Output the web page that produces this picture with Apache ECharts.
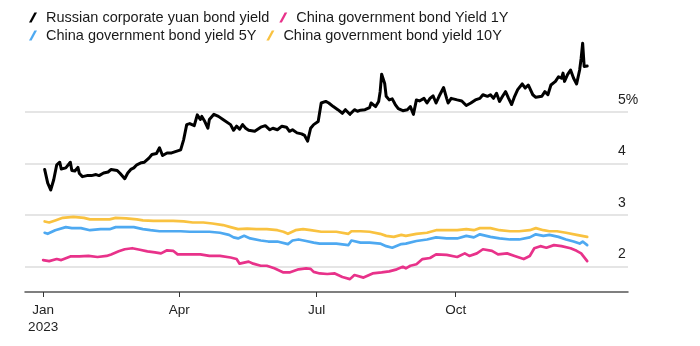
<!DOCTYPE html>
<html>
<head>
<meta charset="utf-8">
<script src="https://cdn.jsdelivr.net/npm/echarts@6/dist/echarts.min.js"></script>
<style>
  html, body { margin: 0; padding: 0; background: #fff; }
  #chart { width: 700px; height: 346px; }
</style>
</head>
<body>
<div id="chart"></div>
<script>
// ---- Data ----
const seriesNames = [
  'Russian corporate yuan bond yield',
  'China government bond Yield 1Y',
  'China government bond yield 5Y',
  'China government bond yield 10Y'
];

const russianYuan = [
  ['2023-01-02',3.88],['2023-01-04',3.62],['2023-01-06',3.48],['2023-01-08',3.68],['2023-01-10',3.97],
  ['2023-01-12',4.02],['2023-01-13',3.89],['2023-01-16',3.91],['2023-01-17',3.88],['2023-01-19',4.02],
  ['2023-01-20',3.86],['2023-01-22',3.85],['2023-01-24',3.92],['2023-01-25',3.80],['2023-01-27',3.74],
  ['2023-01-30',3.76],['2023-02-02',3.76],['2023-02-05',3.78],['2023-02-07',3.76],['2023-02-10',3.81],
  ['2023-02-13',3.83],['2023-02-15',3.88],['2023-02-19',3.86],['2023-02-21',3.80],['2023-02-24',3.70],
  ['2023-02-26',3.81],['2023-02-28',3.88],['2023-03-02',3.91],['2023-03-04',3.97],['2023-03-07',4.01],
  ['2023-03-09',4.02],['2023-03-12',4.10],['2023-03-14',4.17],['2023-03-17',4.19],['2023-03-19',4.30],
  ['2023-03-21',4.15],['2023-03-24',4.20],['2023-03-27',4.20],['2023-03-30',4.23],['2023-04-02',4.26],
  ['2023-04-03',4.23],['2023-04-04',4.46],['2023-04-06',4.75],['2023-04-08',4.77],['2023-04-11',4.73],
  ['2023-04-13',4.94],['2023-04-15',4.85],['2023-04-16',4.91],['2023-04-18',4.81],['2023-04-20',4.68],
  ['2023-04-21',4.85],['2023-04-24',4.95],['2023-04-27',4.91],['2023-04-30',4.85],['2023-05-05',4.75],
  ['2023-05-07',4.64],['2023-05-09',4.72],['2023-05-11',4.66],['2023-05-13',4.75],['2023-05-15',4.68],
  ['2023-05-17',4.64],['2023-05-21',4.62],['2023-05-25',4.70],['2023-05-28',4.73],['2023-05-31',4.65],
  ['2023-06-02',4.68],['2023-06-05',4.65],['2023-06-08',4.72],['2023-06-11',4.70],['2023-06-13',4.62],
  ['2023-06-15',4.65],['2023-06-18',4.59],['2023-06-21',4.57],['2023-06-23',4.54],['2023-06-25',4.43],
  ['2023-06-27',4.68],['2023-06-29',4.75],['2023-07-02',4.81],['2023-07-04',5.17],['2023-07-07',5.20],
  ['2023-07-09',5.17],['2023-07-10',5.18],['2023-07-12',5.10],['2023-07-15',5.04],['2023-07-18',4.97],
  ['2023-07-20',5.04],['2023-07-23',4.95],['2023-07-26',5.04],['2023-07-28',5.01],['2023-07-30',5.03],
  ['2023-08-02',5.04],['2023-08-05',5.08],['2023-08-06',5.17],['2023-08-09',5.10],['2023-08-11',5.20],
  ['2023-08-12',5.39],['2023-08-13',5.73],['2023-08-15',5.55],['2023-08-16',5.30],['2023-08-18',5.23],
  ['2023-08-20',5.25],['2023-08-22',5.14],['2023-08-24',5.06],['2023-08-27',5.02],['2023-08-30',5.04],
  ['2023-09-01',5.10],['2023-09-03',4.95],['2023-09-05',5.23],['2023-09-07',5.21],['2023-09-10',5.26],
  ['2023-09-12',5.17],['2023-09-14',5.26],['2023-09-16',5.31],['2023-09-18',5.17],['2023-09-20',5.30],
  ['2023-09-23',5.47],['2023-09-25',5.26],['2023-09-26',5.17],['2023-09-28',5.26],['2023-10-02',5.23],
  ['2023-10-05',5.21],['2023-10-08',5.12],['2023-10-11',5.17],['2023-10-14',5.23],['2023-10-17',5.26],
  ['2023-10-19',5.33],['2023-10-22',5.30],['2023-10-24',5.33],['2023-10-26',5.26],['2023-10-28',5.36],
  ['2023-10-30',5.20],['2023-11-01',5.30],['2023-11-03',5.39],['2023-11-05',5.26],['2023-11-07',5.14],
  ['2023-11-09',5.30],['2023-11-11',5.43],['2023-11-14',5.54],['2023-11-16',5.46],['2023-11-18',5.52],
  ['2023-11-21',5.33],['2023-11-23',5.28],['2023-11-27',5.30],['2023-11-29',5.39],['2023-12-01',5.33],
  ['2023-12-03',5.52],['2023-12-06',5.59],['2023-12-08',5.68],['2023-12-10',5.65],['2023-12-11',5.75],
  ['2023-12-12',5.59],['2023-12-14',5.72],['2023-12-16',5.81],['2023-12-18',5.65],['2023-12-20',5.54],
  ['2023-12-22',5.81],['2023-12-23',6.04],['2023-12-24',6.33],['2023-12-25',5.88],['2023-12-27',5.89]
];

const china1Y = [
  ['2023-01-01',2.12],['2023-01-05',2.10],['2023-01-10',2.14],['2023-01-13',2.12],['2023-01-19',2.19],
  ['2023-01-25',2.19],['2023-01-31',2.20],['2023-02-06',2.18],['2023-02-12',2.20],['2023-02-15',2.23],
  ['2023-02-20',2.29],['2023-02-24',2.33],['2023-03-01',2.35],['2023-03-06',2.32],['2023-03-11',2.29],
  ['2023-03-16',2.27],['2023-03-20',2.25],['2023-03-24',2.31],['2023-03-28',2.30],['2023-03-31',2.23],
  ['2023-04-07',2.23],['2023-04-15',2.23],['2023-04-21',2.20],['2023-04-28',2.20],['2023-05-05',2.17],
  ['2023-05-09',2.14],['2023-05-11',2.05],['2023-05-17',2.09],['2023-05-20',2.05],['2023-05-25',2.01],
  ['2023-05-29',2.01],['2023-06-03',1.96],['2023-06-09',1.88],['2023-06-13',1.88],['2023-06-19',1.94],
  ['2023-06-24',1.96],['2023-06-27',1.95],['2023-06-29',1.89],['2023-07-03',1.86],['2023-07-08',1.85],
  ['2023-07-13',1.86],['2023-07-18',1.79],['2023-07-23',1.75],['2023-07-26',1.83],['2023-08-01',1.78],
  ['2023-08-07',1.86],['2023-08-13',1.88],['2023-08-18',1.90],['2023-08-23',1.94],['2023-08-27',1.99],
  ['2023-08-29',1.96],['2023-09-01',2.01],['2023-09-05',2.04],['2023-09-09',2.14],['2023-09-14',2.16],
  ['2023-09-18',2.23],['2023-09-25',2.22],['2023-10-02',2.18],['2023-10-07',2.25],['2023-10-10',2.20],
  ['2023-10-15',2.25],['2023-10-19',2.33],['2023-10-25',2.30],['2023-10-29',2.23],['2023-11-04',2.25],
  ['2023-11-09',2.20],['2023-11-15',2.14],['2023-11-19',2.20],['2023-11-22',2.35],['2023-11-26',2.39],
  ['2023-11-30',2.36],['2023-12-05',2.41],['2023-12-10',2.39],['2023-12-16',2.35],['2023-12-20',2.30],
  ['2023-12-23',2.25],['2023-12-27',2.10]
];

const china5Y = [
  ['2023-01-02',2.65],['2023-01-04',2.63],['2023-01-09',2.70],['2023-01-16',2.76],['2023-01-20',2.74],
  ['2023-01-26',2.74],['2023-02-01',2.70],['2023-02-08',2.72],['2023-02-14',2.72],['2023-02-18',2.76],
  ['2023-02-23',2.76],['2023-03-02',2.76],['2023-03-08',2.72],['2023-03-13',2.70],['2023-03-19',2.68],
  ['2023-03-26',2.68],['2023-04-02',2.68],['2023-04-08',2.67],['2023-04-15',2.67],['2023-04-21',2.67],
  ['2023-04-28',2.65],['2023-05-04',2.61],['2023-05-07',2.56],['2023-05-10',2.54],['2023-05-14',2.59],
  ['2023-05-18',2.54],['2023-05-25',2.50],['2023-05-30',2.48],['2023-06-05',2.48],['2023-06-12',2.43],
  ['2023-06-15',2.50],['2023-06-19',2.52],['2023-06-24',2.49],['2023-06-29',2.46],['2023-07-03',2.44],
  ['2023-07-14',2.44],['2023-07-22',2.41],['2023-07-24',2.50],['2023-07-30',2.46],['2023-08-05',2.46],
  ['2023-08-12',2.44],['2023-08-16',2.39],['2023-08-20',2.36],['2023-08-26',2.43],['2023-08-29',2.44],
  ['2023-09-05',2.49],['2023-09-12',2.52],['2023-09-18',2.56],['2023-09-25',2.54],['2023-10-02',2.54],
  ['2023-10-08',2.59],['2023-10-13',2.56],['2023-10-17',2.62],['2023-10-24',2.57],['2023-10-30',2.54],
  ['2023-11-06',2.52],['2023-11-12',2.52],['2023-11-19',2.56],['2023-11-23',2.62],['2023-11-28',2.59],
  ['2023-12-02',2.61],['2023-12-08',2.57],['2023-12-13',2.52],['2023-12-18',2.48],['2023-12-22',2.44],
  ['2023-12-24',2.48],['2023-12-27',2.41]
];

const china10Y = [
  ['2023-01-02',2.87],['2023-01-05',2.85],['2023-01-09',2.89],['2023-01-14',2.94],['2023-01-21',2.96],
  ['2023-01-28',2.94],['2023-02-01',2.91],['2023-02-08',2.91],['2023-02-14',2.91],['2023-02-18',2.94],
  ['2023-02-25',2.93],['2023-03-04',2.91],['2023-03-08',2.89],['2023-03-15',2.88],['2023-03-22',2.88],
  ['2023-03-28',2.88],['2023-04-04',2.87],['2023-04-10',2.85],['2023-04-17',2.85],['2023-04-23',2.83],
  ['2023-04-30',2.80],['2023-05-05',2.76],['2023-05-10',2.72],['2023-05-16',2.73],['2023-05-22',2.72],
  ['2023-05-29',2.72],['2023-06-05',2.70],['2023-06-09',2.67],['2023-06-12',2.63],['2023-06-17',2.70],
  ['2023-06-22',2.72],['2023-06-27',2.70],['2023-07-04',2.67],['2023-07-14',2.67],['2023-07-22',2.63],
  ['2023-07-24',2.68],['2023-07-30',2.68],['2023-08-05',2.67],['2023-08-12',2.63],['2023-08-16',2.59],
  ['2023-08-21',2.57],['2023-08-26',2.61],['2023-08-29',2.59],['2023-09-05',2.63],['2023-09-12',2.65],
  ['2023-09-18',2.70],['2023-09-25',2.70],['2023-10-02',2.70],['2023-10-08',2.72],['2023-10-13',2.70],
  ['2023-10-17',2.74],['2023-10-24',2.74],['2023-10-30',2.70],['2023-11-06',2.68],['2023-11-12',2.68],
  ['2023-11-19',2.70],['2023-11-23',2.74],['2023-11-28',2.70],['2023-12-02',2.68],['2023-12-07',2.68],
  ['2023-12-13',2.65],['2023-12-20',2.61],['2023-12-27',2.57]
];

const yTicks = [2, 3, 4, 5];
const xTickDates = ['2023-01-01', '2023-04-01', '2023-07-01', '2023-10-01'];
const xRange = ['2022-12-20', '2024-01-23'];
const monthNames = ['Jan','Feb','Mar','Apr','May','Jun','Jul','Aug','Sep','Oct','Nov','Dec'];
const colors = ['#000000', '#e8328a', '#4ea9f1', '#f9c240'];

// ---- Chart ----
function toTime(s) {
  const p = s.split('-').map(Number);
  return new Date(p[0], p[1] - 1, p[2]).getTime();
}
const xTickValues = xTickDates.map(toTime);
const FONT = '"Liberation Sans", Arial, Helvetica, sans-serif';
const slashIcon = 'path://M0,10 L2.6,10 L8,0 L5.4,0 Z';

const chart = echarts.init(document.getElementById('chart'), null, { renderer: 'canvas' });

const seriesData = [russianYuan, china1Y, china5Y, china10Y];
const series = seriesData.map((d, i) => ({
  name: seriesNames[i],
  type: 'line',
  data: d.map(p => [toTime(p[0]), p[1]]),
  showSymbol: false,
  symbol: 'none',
  color: colors[i],
  lineStyle: { color: colors[i], width: i === 0 ? 3 : 2.7, join: 'round', cap: 'round' },
  z: 10 - i,
  silent: true
}));
series.push({
  name: 'grid',
  type: 'line',
  data: [],
  silent: true,
  markLine: {
    silent: true,
    symbol: 'none',
    z: 1,
    animation: false,
    label: { show: false },
    lineStyle: { type: 'solid', color: '#dcdcdc', width: 1.5 },
    data: yTicks.map(v => ({ yAxis: v }))
  }
});

const legendCommon = {
  left: 24,
  orient: 'horizontal',
  icon: slashIcon,
  itemWidth: 8,
  itemHeight: 10,
  itemGap: 10,
  selectedMode: false,
  textStyle: { fontFamily: FONT, fontSize: 14.5, color: '#1a1a1a', padding: [0, 0, 0, 4] }
};

chart.setOption({
  animation: false,
  backgroundColor: '#ffffff',
  textStyle: { fontFamily: FONT },
  legend: [
    Object.assign({}, legendCommon, { top: 5, data: [seriesNames[0], seriesNames[1]] }),
    Object.assign({}, legendCommon, { top: 23, data: [seriesNames[2], seriesNames[3]] })
  ],
  grid: { left: 25, right: 72, top: 34.5, bottom: 54, containLabel: false },
  xAxis: {
    type: 'value',
    min: toTime(xRange[0]),
    max: toTime(xRange[1]),
    axisLine: { show: true, lineStyle: { color: '#555555', width: 1.5 } },
    axisTick: { show: true, length: 5, customValues: xTickValues, lineStyle: { color: '#333333', width: 1 } },
    splitLine: { show: false },
    axisLabel: {
      customValues: xTickValues,
      margin: 10,
      fontFamily: FONT,
      fontSize: 13.5,
      lineHeight: 17,
      color: '#222222',
      formatter: function (value) {
        const d = new Date(value);
        const m = monthNames[d.getMonth()];
        return d.getMonth() === 0 ? m + '\n' + d.getFullYear() : m;
      }
    }
  },
  yAxis: {
    type: 'value',
    position: 'right',
    min: 1.5,
    max: 6.5,
    interval: 0.5,
    axisLine: { show: false },
    axisTick: { show: false },
    splitLine: { show: false },
    axisLabel: {
      margin: -10,
      align: 'left',
      verticalAlign: 'bottom',
      padding: [0, 0, 5, 0],
      fontFamily: FONT,
      fontSize: 14,
      color: '#222222',
      formatter: function (v) {
        if (yTicks.indexOf(v) < 0) return '';
        return v === 5 ? v + '%' : String(v);
      }
    }
  },
  series: series
});
</script>
</body>
</html>
